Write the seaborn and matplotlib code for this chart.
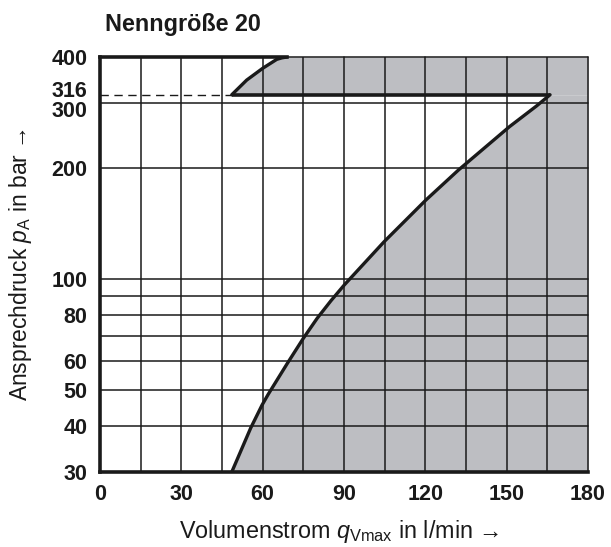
import matplotlib
matplotlib.use("Agg")
import matplotlib.pyplot as plt
import matplotlib.transforms as mtransforms
from matplotlib.ticker import FixedLocator, NullFormatter
import seaborn as sns

# ---- data ----
lower_p = [30, 39.5, 45.6, 48.8, 59.1, 69.1, 78.3, 87.4, 96.4, 126.3, 163.8, 197.5, 258.8, 295, 316]
lower_q = [48.6, 55.6, 59.8, 62.1, 69.1, 75.0, 80.1, 85.2, 90.1, 104.8, 120.2, 132.2, 151.0, 161.1, 166.0]
upper_p = [316, 328.9, 346.3, 372.7, 394.2, 397.9, 400]
upper_q = [48.6, 51.0, 54.1, 60.0, 65.2, 67.1, 68.9]
limit_p = 316
x_ticks = [0, 30, 60, 90, 120, 150, 180]
x_grid = [0, 15, 30, 45, 60, 75, 90, 105, 120, 135, 150, 165, 180]
y_ticks = [30, 40, 50, 60, 80, 100, 200, 300, 316, 400]
y_minor = [70, 90]

sns.set_theme(style="white")
plt.rcParams["font.family"] = ["Liberation Sans", "DejaVu Sans"]
plt.rcParams["mathtext.fontset"] = "custom"
plt.rcParams["mathtext.rm"] = "Liberation Sans"
plt.rcParams["mathtext.it"] = "Liberation Sans:italic"

ink = "#1a1a1a"
gray = "#bdbec2"

fig = plt.figure(figsize=(6.11, 5.47), dpi=100)
ax = fig.add_axes([100 / 611, 1 - 472 / 547, 488 / 611, 415 / 547])
ax.set_yscale("log")
ax.set_xlim(0, 180)
ax.set_ylim(30, 400)
ax.set_axisbelow(False)

# shaded region
ax.fill_betweenx(lower_p, lower_q, 180, color=gray, linewidth=0, zorder=1)
ax.fill_betweenx(upper_p, upper_q, 180, color=gray, linewidth=0, zorder=1)

# grid
ax.xaxis.set_major_locator(FixedLocator(x_ticks))
ax.xaxis.set_minor_locator(FixedLocator(x_grid))
ax.yaxis.set_major_locator(FixedLocator(y_ticks))
ax.yaxis.set_minor_locator(FixedLocator(y_minor))
ax.xaxis.set_minor_formatter(NullFormatter())
ax.yaxis.set_minor_formatter(NullFormatter())
ax.set_xticklabels([str(v) for v in x_ticks])
ax.set_yticklabels([str(v) for v in y_ticks])
ax.grid(True, which="both", color=ink, linewidth=1.1)
for t in ax.yaxis.get_major_ticks():
    if abs(t.get_loc() - limit_p) < 1e-6:
        t.gridline.set_visible(False)
for gl in ax.get_xgridlines() + ax.get_ygridlines():
    gl.set_clip_on(False)
ax.tick_params(which="both", length=0, pad=9, labelsize=15.5)
for lab in ax.get_xticklabels() + ax.get_yticklabels():
    lab.set_fontweight("bold")
    lab.set_color(ink)

# nudge the crowded 316 / 300 labels apart
for lab in ax.get_yticklabels():
    if lab.get_text() == "316":
        lab.set_transform(lab.get_transform() + mtransforms.ScaledTranslation(0, 0.055, fig.dpi_scale_trans))
    elif lab.get_text() == "300":
        lab.set_transform(lab.get_transform() + mtransforms.ScaledTranslation(0, -0.06, fig.dpi_scale_trans))

# spines
for s in ["top", "right"]:
    ax.spines[s].set_visible(False)
for s in ["left", "bottom"]:
    ax.spines[s].set_linewidth(2.6)
    ax.spines[s].set_color(ink)
    ax.spines[s].set_capstyle("projecting")
    ax.spines[s].set_zorder(3)

# curves
sns.lineplot(x=lower_q, y=lower_p, sort=False, color=ink, linewidth=2.4, ax=ax, zorder=3,
             solid_joinstyle="round")
sns.lineplot(x=upper_q, y=upper_p, sort=False, color=ink, linewidth=2.4, ax=ax, zorder=3,
             solid_joinstyle="round")
ax.plot([upper_q[0], lower_q[-1]], [limit_p, limit_p], color=ink, linewidth=2.6, zorder=3,
        solid_capstyle="butt")
ax.plot([0, upper_q[0]], [limit_p, limit_p], color=ink, linewidth=1.0, dashes=(6, 4), zorder=3)
ax.plot([0, upper_q[-1]], [upper_p[-1], upper_p[-1]], color=ink, linewidth=2.6, zorder=3,
        clip_on=False, solid_capstyle="projecting")

# labels
ax.set_xlabel(r"Volumenstrom $q_{\mathrm{Vmax}}$ in l/min →", fontsize=16.8, color=ink)
ax.set_ylabel(r"Ansprechdruck $p_{\mathrm{A}}$ in bar →", fontsize=16.5, color=ink)
ax.xaxis.set_label_coords(0.49, -0.11)
ax.yaxis.set_label_coords(-0.135, 0.5)
title = ax.set_title("Nenngröße 20", loc="left", fontsize=16.8, fontweight="bold", color=ink, pad=19)
title.set_x(0.01)

fig.savefig("out.png", dpi=100)
